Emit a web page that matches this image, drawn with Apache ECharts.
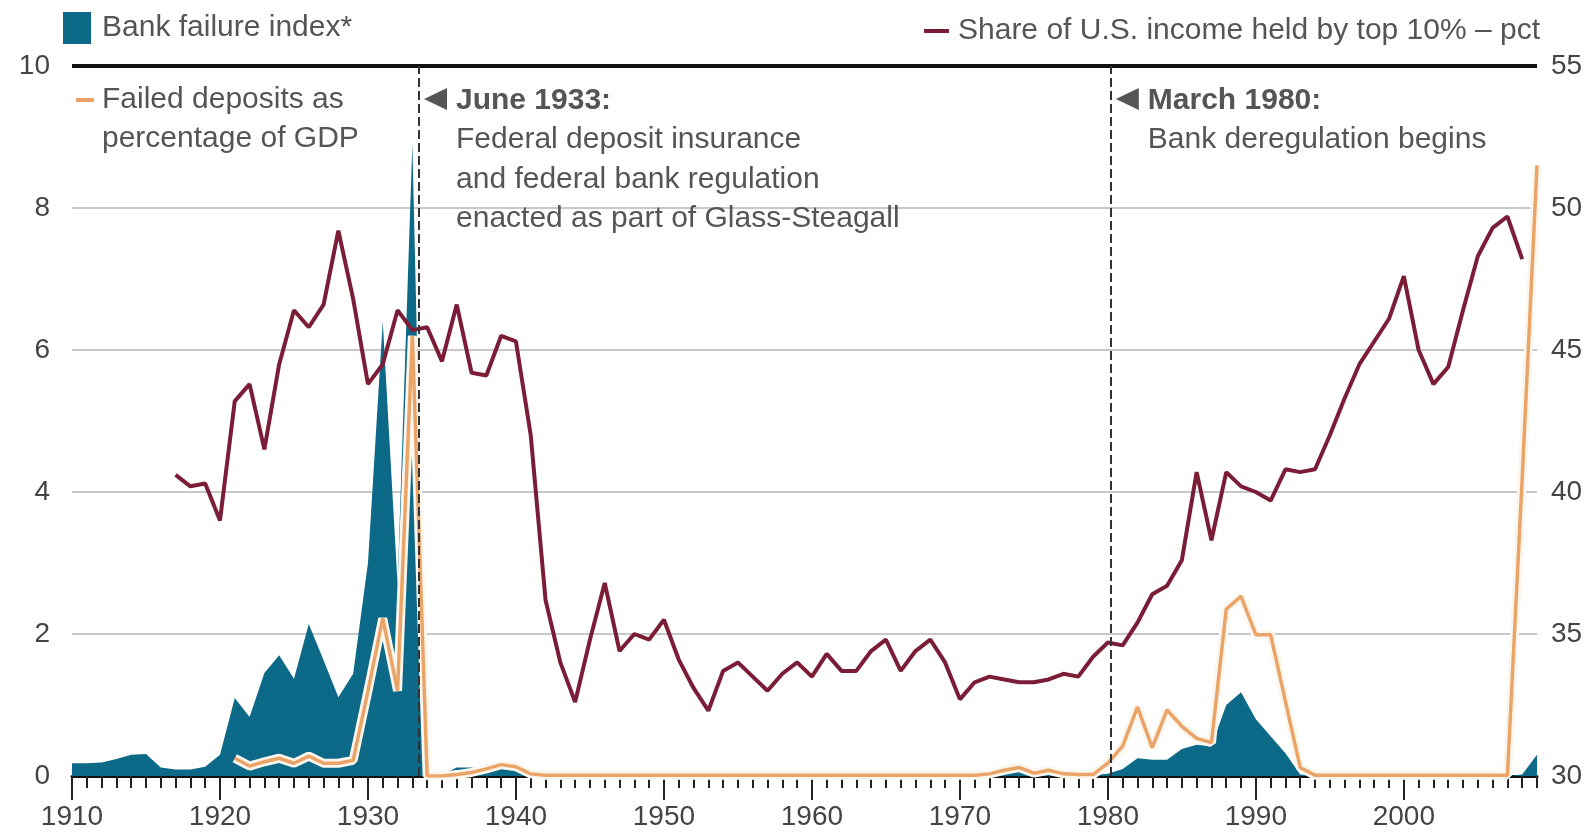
<!DOCTYPE html>
<html lang="en">
<head>
    <meta charset="UTF-8">
    <title>Bank failures and income share</title>
    <script src="https://cdn.jsdelivr.net/npm/echarts@6.0.0/dist/echarts.min.js"></script>
    <style>
        body { margin: 0; background: #fff; }
        #main { width: 1592px; height: 833px; }
    </style>
</head>
<body>
<div id="main"></div>
<script>
    // years on the x axis, 1910 - 2009
    var years = [];
    for (var y = 1910; y <= 2009; y++) years.push(y);
    var decadeTicks = [1910, 1920, 1930, 1940, 1950, 1960, 1970, 1980, 1990, 2000];

    // Bank failure index* (left axis)
    var bankIndex = [
        0.18, 0.18, 0.19, 0.24, 0.30, 0.31, 0.12, 0.09, 0.09, 0.13,
        0.30, 1.10, 0.83, 1.45, 1.70, 1.37, 2.14, 1.63, 1.11, 1.44,
        3.00, 6.40, 2.70, 8.90, 0.00, 0.02, 0.12, 0.12, 0.10, 0.10,
        0.08, 0.02, 0, 0, 0, 0, 0, 0, 0, 0,
        0, 0, 0, 0, 0, 0, 0, 0, 0, 0,
        0, 0, 0, 0, 0, 0, 0, 0, 0, 0,
        0, 0, 0.01, 0.05, 0.06, 0.03, 0.04, 0.01, 0.01, 0.01,
        0.03, 0.10, 0.25, 0.23, 0.23, 0.38, 0.44, 0.42, 1.00, 1.18,
        0.80, 0.56, 0.32, 0.02, 0, 0, 0, 0, 0, 0,
        0, 0, 0, 0, 0, 0, 0, 0, 0.02, 0.30
    ];

    // Failed deposits as percentage of GDP (left axis)
    var failedDeposits = [
        null, null, null, null, null, null, null, null, null, null,
        null, 0.25, 0.14, 0.20, 0.25, 0.18, 0.28, 0.18, 0.18, 0.22,
        1.20, 2.22, 1.20, 6.20, 0.00, 0.00, 0.02, 0.05, 0.10, 0.16,
        0.13, 0.03, 0.01, 0.01, 0.01, 0.01, 0.01, 0.01, 0.01, 0.01,
        0.01, 0.01, 0.01, 0.01, 0.01, 0.01, 0.01, 0.01, 0.01, 0.01,
        0.01, 0.01, 0.01, 0.01, 0.01, 0.01, 0.01, 0.01, 0.01, 0.01,
        0.01, 0.01, 0.03, 0.08, 0.12, 0.04, 0.08, 0.03, 0.02, 0.02,
        0.18, 0.42, 0.97, 0.40, 0.93, 0.70, 0.53, 0.47, 2.35, 2.53,
        1.99, 1.99, 1.05, 0.12, 0.01, 0.01, 0.01, 0.01, 0.01, 0.01,
        0.01, 0.01, 0.01, 0.01, 0.01, 0.01, 0.01, 0.01, 4.20, 8.60
    ];

    // Share of U.S. income held by top 10% - pct (right axis)
    var incomeShare = [
        null, null, null, null, null, null, null, 40.6, 40.2, 40.3,
        39.0, 43.2, 43.8, 41.5, 44.5, 46.4, 45.8, 46.6, 49.2, 46.8,
        43.8, 44.5, 46.4, 45.7, 45.8, 44.6, 46.6, 44.2, 44.1, 45.5,
        45.3, 42.0, 36.2, 34.0, 32.6, 34.8, 36.8, 34.4, 35.0, 34.8,
        35.5, 34.1, 33.1, 32.3, 33.7, 34.0, 33.5, 33.0, 33.6, 34.0,
        33.5, 34.3, 33.7, 33.7, 34.4, 34.8, 33.7, 34.4, 34.8, 34.0,
        32.7, 33.3, 33.5, 33.4, 33.3, 33.3, 33.4, 33.6, 33.5, 34.2,
        34.7, 34.6, 35.4, 36.4, 36.7, 37.6, 40.7, 38.3, 40.7, 40.2,
        40.0, 39.7, 40.8, 40.7, 40.8, 42.0, 43.3, 44.5, 45.3, 46.1,
        47.6, 45.0, 43.8, 44.4, 46.4, 48.3, 49.3, 49.7, 48.2, null
    ];

    var events = [
        { year: 1933.45, title: 'June 1933:', lines: ['Federal deposit insurance', 'and federal bank regulation', 'enacted as part of Glass-Steagall'] },
        { year: 1980.2, title: 'March 1980:', lines: ['Bank deregulation begins'] }
    ];

    function pairs(vals) {
        var out = [];
        for (var i = 0; i < years.length; i++) out.push([years[i], vals[i]]);
        return out;
    }

    var FONT = '"Liberation Sans", Arial, sans-serif';
    var TEAL = '#0c6a88', MAROON = '#7b1d36', ORANGE = '#eba467', TXT = '#555';

    var myChart = echarts.init(document.getElementById('main'));
    var option = {
        animation: false,
        backgroundColor: '#fff',
        textStyle: { fontFamily: FONT },
        grid: { left: 72, right: 55, top: 66, bottom: 57 },
        legend: [
            {
                data: ['Bank failure index*'], left: 63, top: 12, padding: 0,
                icon: 'rect', itemWidth: 28, itemHeight: 32, selectedMode: false,
                textStyle: { fontSize: 30, color: TXT, fontFamily: FONT, padding: [5, 0, 0, 6] }
            },
            {
                data: ['Share of U.S. income held by top 10% – pct'], left: 924, top: 16, padding: 0,
                icon: 'rect', itemWidth: 25, itemHeight: 4, selectedMode: false,
                textStyle: { fontSize: 30, color: TXT, fontFamily: FONT, padding: [0, 0, 0, 4] }
            },
            {
                data: ['Failed deposits as percentage of GDP'], left: 76, top: 85, padding: 0,
                icon: 'rect', itemWidth: 18, itemHeight: 4, selectedMode: false,
                formatter: function () { return 'Failed deposits as'; },
                textStyle: { fontSize: 30, color: TXT, fontFamily: FONT, padding: [0, 0, 0, 3] }
            }
        ],
        xAxis: [
            {
                type: 'value', min: 1910, max: 2009, interval: 1,
                axisLine: { lineStyle: { color: '#111', width: 3 } },
                axisTick: { length: 12, lineStyle: { color: '#222', width: 2 } },
                axisLabel: {
                    margin: 27, fontSize: 28, color: '#444', fontFamily: FONT,
                    formatter: function (v) { return v % 10 === 0 ? String(v) : ''; }
                },
                splitLine: { show: false }
            },
            {
                type: 'value', min: 1910, max: 2009, interval: 10, position: 'bottom',
                axisLine: { show: false },
                axisTick: { length: 24, customValues: decadeTicks, lineStyle: { color: '#222', width: 2 } },
                axisLabel: { show: false },
                splitLine: { show: false }
            }
        ],
        yAxis: [
            {
                type: 'value', min: 0, max: 10, interval: 2,
                axisLine: { show: false }, axisTick: { show: false },
                axisLabel: { fontSize: 28, color: '#444', margin: 22, fontFamily: FONT },
                splitLine: { lineStyle: { color: '#c8c8c8', width: 2 } }
            },
            {
                type: 'value', min: 30, max: 55, interval: 5,
                axisLine: { show: false }, axisTick: { show: false },
                axisLabel: { fontSize: 28, color: '#444', margin: 14, fontFamily: FONT },
                splitLine: { show: false }
            }
        ],
        series: [
            {
                name: 'Bank failure index*',
                type: 'line', yAxisIndex: 0, symbol: 'none',
                data: pairs(bankIndex),
                itemStyle: { color: TEAL },
                lineStyle: { width: 0, color: TEAL },
                areaStyle: { color: TEAL, opacity: 1 },
                markLine: {
                    silent: true, symbol: 'none', label: { show: false },
                    lineStyle: { color: '#111', width: 4, type: 'solid' },
                    data: [{ yAxis: 10 }]
                }
            },
            {
                name: 'halo',
                type: 'line', yAxisIndex: 0, symbol: 'none',
                data: pairs(failedDeposits),
                lineStyle: { width: 9, color: '#fbf6ee' },
                itemStyle: { color: '#fff' }
            },
            {
                name: 'Failed deposits as percentage of GDP',
                type: 'line', yAxisIndex: 0, symbol: 'none',
                data: pairs(failedDeposits),
                itemStyle: { color: ORANGE },
                lineStyle: { width: 3.5, color: ORANGE }
            },
            {
                name: 'Share of U.S. income held by top 10% – pct',
                type: 'line', yAxisIndex: 1, symbol: 'none',
                data: pairs(incomeShare),
                itemStyle: { color: MAROON },
                lineStyle: { width: 4, color: MAROON },
                markLine: {
                    silent: true, symbol: 'none', label: { show: false },
                    lineStyle: { color: '#333', width: 2, type: [9, 4] },
                    data: events.map(function (e) { return { xAxis: e.year }; })
                }
            }
        ]
    };
    myChart.setOption(option);

    // annotations and second legend line, placed from axis positions
    var g = [];
    g.push({
        type: 'text', left: 102, top: 124,
        style: { text: 'percentage of GDP', fontSize: 30, fill: TXT, fontFamily: FONT }
    });
    events.forEach(function (e) {
        var px = myChart.convertToPixel({ xAxisIndex: 0 }, e.year);
        g.push({
            type: 'polygon',
            shape: { points: [[px + 5, 99], [px + 28, 88], [px + 28, 110]] },
            style: { fill: '#555' }
        });
        g.push({
            type: 'text', x: px + 37, y: 86,
            style: { text: e.title, fontSize: 30, fontWeight: 'bold', fill: TXT, fontFamily: FONT }
        });
        e.lines.forEach(function (t, i) {
            g.push({
                type: 'text', x: px + 37, y: 125 + i * 39.5,
                style: { text: t, fontSize: 30, fill: TXT, fontFamily: FONT }
            });
        });
    });
    myChart.setOption({ graphic: g });
</script>
</body>
</html>
